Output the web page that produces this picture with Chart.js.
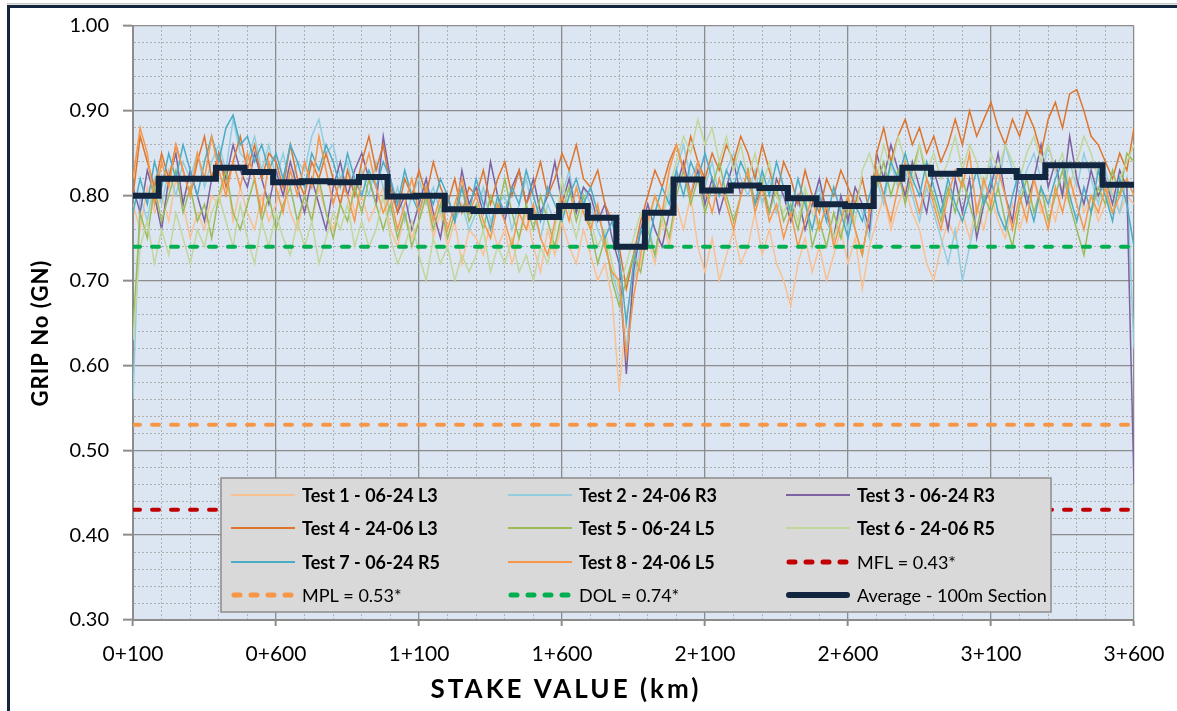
<!DOCTYPE html>
<html><head><meta charset="utf-8">
<script src="https://cdn.jsdelivr.net/npm/chart.js@4.4.1/dist/chart.umd.min.js"></script>
<style>html,body{margin:0;padding:0;background:#fff;}canvas{display:block;}</style>
</head><body>
<canvas id="c" width="1177" height="711"></canvas>
<script>
// ---- categories: stake positions (m), every 25 m from 0+100 to 3+600
const STAKE_FIRST = 100, STAKE_LAST = 3600, STAKE_STEP = 25;
const stakes = [];
for (let s = STAKE_FIRST; s <= STAKE_LAST; s += STAKE_STEP) stakes.push(s);

// ---- series values (one line per 100 m section, last value at 3+600)
const test1 = [
.79,.76,.81,.78, .80,.77,.82,.79, .75,.78,.76,.80, .79,.83,.77,.81, .78,.76,.80,.77,
.79,.82,.78,.76, .80,.77,.81,.78, .76,.79,.82,.78, .80,.77,.79,.81, .76,.74,.78,.75,
.77,.80,.75,.78, .74,.77,.72,.76, .75,.73,.77,.74, .76,.72,.75,.78, .74,.71,.76,.73,
.77,.74,.72,.76, .73,.70,.72,.68, .57,.66,.70,.72, .75,.72,.77,.74, .79,.76,.80,.74,
.71,.75,.70,.73, .76,.72,.74,.78, .73,.76,.72,.70, .67,.72,.75,.71, .74,.70,.73,.76,
.72,.75,.69,.74, .77,.80,.76,.79, .81,.78,.76,.72, .70,.74,.77,.75, .78,.75,.79,.76,
.80,.77,.75,.79, .76,.79,.82,.78, .80,.77,.81,.79, .82,.78,.80,.77, .79,.81,.78,.80,
.79];
const test2 = [
.56,.80,.77,.82, .79,.83,.80,.84, .82,.85,.81,.84, .86,.83,.89,.85, .84,.87,.83,.86,
.82,.85,.81,.84, .83,.87,.89,.85, .86,.82,.84,.80, .83,.80,.84,.81, .78,.81,.77,.80,
.82,.79,.81,.78, .80,.77,.79,.76, .78,.81,.77,.79, .80,.76,.79,.82, .78,.75,.79,.77,
.80,.83,.78,.81, .79,.76,.74,.71, .68,.62,.70,.74, .77,.73,.78,.80, .83,.86,.82,.84,
.81,.84,.80,.83, .85,.82,.80,.83, .79,.82,.78,.81, .77,.80,.76,.79, .81,.77,.75,.79,
.76,.80,.78,.75, .82,.79,.84,.81, .83,.80,.77,.81, .78,.75,.72,.76, .70,.74,.78,.81,
.84,.81,.86,.83, .80,.83,.85,.82, .86,.83,.80,.84, .81,.85,.82,.79, .83,.80,.78,.82,
.62];
const test3 = [
.81,.78,.83,.80, .76,.82,.85,.79, .83,.80,.77,.82, .85,.82,.86,.83, .81,.85,.82,.79,
.83,.80,.84,.81, .78,.82,.79,.76, .81,.84,.80,.83, .85,.82,.79,.87, .82,.78,.80,.76,
.79,.82,.78,.75, .80,.77,.83,.79, .81,.78,.84,.80, .77,.81,.83,.79, .82,.78,.80,.84,
.79,.82,.78,.81, .80,.77,.79,.75, .72,.59,.71,.76, .79,.76,.74,.78, .81,.84,.80,.83,
.79,.82,.78,.81, .84,.80,.83,.79, .81,.78,.82,.80, .77,.80,.76,.79, .82,.78,.75,.80,
.77,.81,.79,.76, .85,.82,.86,.83, .80,.84,.81,.78, .83,.80,.76,.82, .78,.82,.75,.79,
.81,.85,.80,.77, .83,.79,.82,.86, .81,.84,.80,.87, .82,.79,.83,.80, .82,.79,.83,.81,
.46];
const test4 = [
.80,.87,.84,.81, .85,.82,.86,.83, .80,.84,.87,.82, .85,.81,.84,.87, .83,.86,.82,.85,
.84,.81,.86,.82, .80,.84,.82,.85, .82,.79,.83,.80, .84,.87,.83,.86, .81,.78,.82,.80,
.83,.80,.84,.81, .79,.82,.78,.81, .80,.83,.79,.82, .84,.80,.83,.79, .81,.84,.80,.82,
.85,.83,.86,.82, .81,.83,.79,.77, .74,.69,.73,.77, .80,.83,.81,.84, .86,.83,.87,.84,
.82,.85,.83,.86, .84,.87,.85,.82, .86,.83,.80,.84, .82,.79,.83,.80, .78,.82,.80,.83,
.81,.79,.82,.78, .85,.88,.84,.87, .89,.86,.88,.85, .87,.84,.86,.89, .86,.90,.87,.89,
.91,.88,.86,.89, .87,.90,.88,.85, .89,.91,.88,.92, .925,.90,.87,.86, .84,.82,.85,.83,
.88];
const test5 = [
.64,.78,.75,.81, .77,.80,.83,.78, .81,.77,.79,.75, .80,.83,.78,.76, .79,.82,.77,.80,
.76,.79,.81,.77, .80,.77,.82,.78, .75,.79,.77,.81, .78,.82,.79,.76, .79,.75,.78,.74,
.77,.80,.76,.79, .75,.78,.81,.77, .79,.76,.80,.78, .82,.78,.75,.79, .76,.80,.77,.74,
.78,.81,.77,.80, .76,.72,.75,.70, .67,.70,.73,.71, .76,.73,.78,.75, .80,.83,.79,.82,
.78,.81,.84,.80, .77,.80,.83,.79, .82,.78,.81,.77, .79,.76,.80,.74, .77,.74,.78,.75,
.79,.76,.73,.78, .81,.84,.80,.83, .79,.83,.86,.82, .80,.77,.81,.78, .82,.79,.76,.80,
.78,.81,.77,.74, .79,.82,.78,.81, .77,.80,.83,.79, .76,.73,.78,.81, .79,.83,.80,.85,
.84];
const test6 = [
.63,.74,.77,.72, .76,.73,.78,.75, .72,.76,.74,.78, .80,.77,.74,.79, .75,.72,.77,.74,
.78,.75,.73,.77, .74,.77,.72,.75, .78,.76,.79,.74, .77,.74,.76,.80, .75,.72,.74,.77,
.73,.70,.75,.72, .74,.70,.73,.71, .73,.76,.71,.74, .72,.75,.71,.73, .70,.74,.72,.76,
.82,.78,.75,.79, .77,.74,.76,.72, .69,.72,.75,.78, .76,.80,.77,.81, .84,.87,.85,.89,
.86,.88,.84,.87, .83,.86,.82,.85, .81,.84,.80,.78, .80,.77,.81,.78, .76,.79,.75,.78,
.80,.77,.83,.85, .82,.86,.83,.87, .84,.81,.86,.83, .85,.82,.84,.87, .83,.86,.84,.81,
.85,.83,.86,.84, .82,.85,.87,.84, .86,.83,.85,.81, .84,.87,.85,.82, .80,.78,.82,.84,
.86];
const test7 = [
.78,.82,.79,.84, .81,.85,.82,.86, .83,.80,.84,.87, .84,.88,.895,.86, .87,.84,.86,.83,
.85,.82,.86,.84, .81,.85,.83,.86, .84,.81,.85,.82, .80,.83,.81,.84, .82,.79,.83,.80,
.78,.81,.79,.82, .80,.77,.81,.78, .82,.79,.76,.80, .78,.81,.79,.83, .80,.77,.81,.79,
.77,.80,.82,.79, .81,.78,.75,.77, .73,.65,.72,.76, .74,.78,.81,.79, .83,.80,.84,.82,
.85,.82,.80,.83, .81,.84,.82,.79, .83,.80,.84,.81, .78,.82,.79,.76, .80,.77,.81,.78,
.75,.79,.77,.80, .83,.80,.84,.82, .85,.82,.80,.84, .81,.78,.82,.79, .77,.80,.83,.79,
.82,.78,.76,.80, .83,.80,.77,.81, .79,.82,.84,.80, .77,.81,.78,.83, .80,.77,.82,.79,
.74];
const test8 = [
.82,.88,.85,.79, .84,.81,.86,.83, .80,.85,.82,.87, .83,.80,.84,.81, .85,.82,.78,.84,
.81,.78,.83,.80, .84,.81,.87,.83, .79,.82,.80,.77, .82,.85,.81,.78, .80,.76,.79,.82,
.78,.81,.77,.80, .76,.79,.82,.78, .80,.77,.75,.79, .77,.74,.78,.76, .79,.75,.73,.77,
.80,.77,.81,.78, .76,.79,.74,.71, .70,.61,.68,.73, .77,.80,.78,.83, .86,.83,.80,.84,
.81,.78,.82,.79, .76,.80,.83,.78, .81,.77,.79,.75, .78,.74,.77,.80, .76,.79,.74,.77,
.80,.76,.73,.78, .83,.80,.77,.81, .84,.81,.78,.82, .79,.76,.80,.83, .81,.85,.78,.82,
.79,.83,.80,.76, .80,.77,.82,.79, .76,.81,.78,.82, .79,.76,.80,.78, .81,.78,.80,.82,
.80];

// ---- 100 m section averages (section start stake, value); last entry closes the line
const avgStart = [100,190,290,390,490,590,690,790,890,990,1090,1190,1290,1390,1490,1590,1690,1790,1890,
  1990,2090,2190,2290,2390,2490,2590,2690,2790,2890,2990,3090,3190,3290,3390,3490,3600];
const avgValue = [.800,.820,.820,.833,.828,.816,.817,.816,.822,.799,.800,.784,.782,.782,.775,.788,.774,.740,.780,
  .819,.806,.812,.809,.797,.790,.788,.820,.833,.826,.829,.829,.822,.836,.836,.813,.813];

// ---- limit lines
const MFL = 0.43, MPL = 0.53, DOL = 0.74;

// ---- labels
const seriesLabels = ['Test 1 - 06-24 L3','Test 2 - 24-06 R3','Test 3 - 06-24 R3','Test 4 - 24-06 L3',
  'Test 5 - 06-24 L5','Test 6 - 24-06 R5','Test 7 - 06-24 R5','Test 8 - 24-06 L5'];
const limitLabels = ['MFL = 0.43*','MPL = 0.53*','DOL = 0.74*'];
const avgLabel = 'Average - 100m Section';
const xTitle = 'STAKE VALUE (km)';
const yTitle = 'GRIP No (GN)';

const seriesColors = ['#fac090','#93cddd','#7d61a0','#de752c','#9bbb59','#c3d69b','#4bacc6','#f79646'];
const tests = [test1,test2,test3,test4,test5,test6,test7,test8];

const datasets = tests.map((vals,i)=>({
  label: seriesLabels[i],
  data: stakes.map((s,j)=>({x:s,y:vals[j]})),
  borderColor: seriesColors[i], borderWidth: 1.5, pointRadius: 0, tension: 0,
  order: 20 - i, legendWidth: 2.2, legendBold: true
}));
const limitLine = (label, v, color, dash, order, ldash) => ({
  label, data:[{x:STAKE_FIRST,y:v},{x:STAKE_LAST,y:v}],
  borderColor: color, borderWidth: 4, borderDash: dash, borderCapStyle:'round',
  pointRadius:0, order, legendWidth:5, legendDash: ldash, legendCap:'round'
});
datasets.push(limitLine(limitLabels[0], MFL, '#c00000', [7,12], 3, [6,11]));
datasets.push(limitLine(limitLabels[1], MPL, '#f79646', [7,12], 2, [6,11]));
datasets.push(limitLine(limitLabels[2], DOL, '#00b050', [7,12], 1, [6,11]));
datasets.push({
  label: avgLabel, data: avgStart.map((s,i)=>({x:s,y:avgValue[i]})),
  borderColor:'#12263f', borderWidth:6, stepped:true, pointRadius:0, order:0,
  legendWidth:6, legendCap:'round'
});

const isMajorX = v => ((Math.round(v) - STAKE_FIRST) % 500) === 0;
const isMajorY = v => Math.abs(v*10 - Math.round(v*10)) < 1e-6;
const fmtStake = v => { v = Math.round(v); return Math.floor(v/1000) + '+' + String(v%1000).padStart(3,'0'); };

const decor = {
  id:'decor',
  beforeDraw(chart){
    const {ctx, chartArea:a} = chart;
    ctx.save();
    ctx.fillStyle='#fff'; ctx.fillRect(0,0,chart.width,chart.height);
    ctx.fillStyle='#c8c8c8'; ctx.fillRect(7,3,chart.width-7,1.5);
    ctx.fillStyle='#14263f'; ctx.fillRect(7,5,chart.width-7,3); ctx.fillRect(7,5,3,chart.height-5);
    ctx.fillStyle='#dce6f2'; ctx.fillRect(a.left,a.top,a.right-a.left,a.bottom-a.top);
    ctx.restore();
  },
  afterDatasetsDraw(chart){
    const ctx = chart.ctx;
    const bx=221, by=478, bw=830, bh=134;
    ctx.save();
    ctx.fillStyle='#d9d9d9'; ctx.fillRect(bx,by,bw,bh);
    ctx.strokeStyle='#8c8c8c'; ctx.lineWidth=1.5; ctx.strokeRect(bx,by,bw,bh);
    const colX=[231,508,786], rowY=[495,528,562,595];
    chart.data.datasets.forEach((ds,k)=>{
      const x=colX[k%3], y=rowY[Math.floor(k/3)];
      ctx.beginPath();
      ctx.setLineDash(ds.legendDash||[]);
      ctx.lineCap = ds.legendCap||'butt';
      ctx.strokeStyle=ds.borderColor; ctx.lineWidth=ds.legendWidth;
      const x0 = ds.legendCap==='round' ? x+3 : x, x1 = ds.legendCap==='round' ? x+61 : x+64;
      ctx.moveTo(x0,y); ctx.lineTo(x1,y); ctx.stroke();
      ctx.setLineDash([]);
      ctx.fillStyle='#000';
      ctx.font=(ds.legendBold?'bold ':'')+'18px Lato';
      ctx.textBaseline='middle'; ctx.textAlign='left';
      ctx.fillText(ds.label, x+71, y+1);
    });
    ctx.restore();
  },
  afterDraw(chart){
    const ctx=chart.ctx;
    ctx.save();
    ctx.fillStyle='#000';
    ctx.textAlign='center'; ctx.textBaseline='middle';
    ctx.font='bold 26px Lato';
    try { ctx.letterSpacing='3px'; } catch(e) {}
    ctx.fillText(xTitle, 566, 690);
    try { ctx.letterSpacing='1px'; } catch(e) {}
    ctx.font='bold 22px Lato';
    ctx.translate(41,333); ctx.rotate(-Math.PI/2);
    ctx.fillText(yTitle, 0, 0);
    ctx.restore();
  }
};

new Chart(document.getElementById('c'), {
  type:'line',
  data:{datasets},
  options:{
    responsive:false, animation:false,
    layout:{padding:{left:0,top:22,right:43,bottom:0}},
    plugins:{legend:{display:false}, tooltip:{enabled:false}},
    scales:{
      x:{
        type:'linear', min:STAKE_FIRST, max:STAKE_LAST,
        afterFit(s){ s.height = 91; s.paddingLeft = 0; s.paddingRight = 0; },
        ticks:{stepSize:100, autoSkip:false, maxRotation:0, minRotation:0, padding:16, color:'#000',
          font:{family:'Lato', size:21}, callback:v=> isMajorX(v) ? fmtStake(v) : ''},
        grid:{
          color:c=> (c.tick && isMajorX(c.tick.value)) ? '#8c8c8c' : '#b0b0b0',
          lineWidth:c=> (c.tick && isMajorX(c.tick.value)) ? 1.3 : 1,
          tickLength:6, tickWidth:2,
          tickColor:c=> (c.tick && isMajorX(c.tick.value)) ? '#8c8c8c' : 'rgba(0,0,0,0)'
        },
        border:{color:'#8c8c8c', width:2, dash:c=> (c.tick && !isMajorX(c.tick.value)) ? [2,2] : []}
      },
      y:{
        min:0.3, max:1.0,
        afterFit(s){ s.width = 133; },
        ticks:{stepSize:0.02, autoSkip:false, padding:14, color:'#000',
          font:{family:'Lato', size:20}, callback:v=> isMajorY(v) ? v.toFixed(2) : ''},
        grid:{
          color:c=> (c.tick && isMajorY(c.tick.value)) ? '#8c8c8c' : '#b0b0b0',
          lineWidth:c=> (c.tick && isMajorY(c.tick.value)) ? 1.3 : 1,
          tickLength:10, tickWidth:2,
          tickColor:c=> (c.tick && isMajorY(c.tick.value)) ? '#8c8c8c' : 'rgba(0,0,0,0)'
        },
        border:{color:'#8c8c8c', width:2, dash:c=> (c.tick && !isMajorY(c.tick.value)) ? [2,2] : []}
      }
    }
  },
  plugins:[decor]
});
</script></body></html>
